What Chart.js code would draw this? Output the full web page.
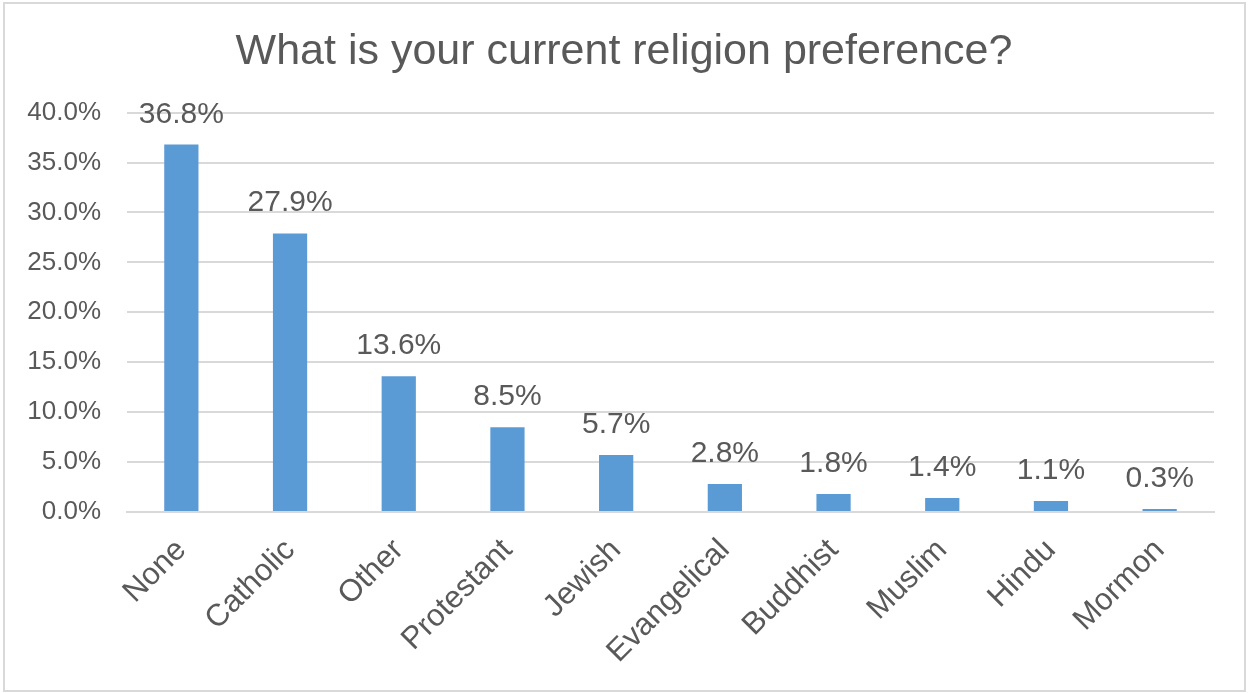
<!DOCTYPE html>
<html lang="en">
<head>
  <meta charset="UTF-8">
  <title>What is your current religion preference?</title>
  <script src="https://cdn.jsdelivr.net/npm/chart.js"></script>
  <style>
    html, body { margin: 0; padding: 0; background: #fff; }
    #wrap { position: relative; width: 1248px; height: 693px; }
    /* marco gris exterior */
    #frame {
      position: absolute; left: 3px; top: 2px; width: 1239px; height: 686px;
      border: 2px solid #d9d9d9; pointer-events: none;
    }
  </style>
</head>
<body>
  <div id="wrap">
    <canvas id="religionChart" width="1248" height="693"></canvas>
    <div id="frame"></div>
  </div>

  <script>
    const categories = ['None', 'Catholic', 'Other', 'Protestant', 'Jewish', 'Evangelical', 'Buddhist', 'Muslim', 'Hindu', 'Mormon'];
    const shares = [36.8, 27.9, 13.6, 8.5, 5.7, 2.8, 1.8, 1.4, 1.1, 0.3];
    const yMax = 40;
    const yStep = 5;

    const textColor = '#595959';
    const fontFamily = '"Liberation Sans", Arial, sans-serif';

    // etiquetas encima de cada barra
    const barLabels = {
      id: 'barLabels',
      afterDatasetsDraw(chart) {
        const ctx = chart.ctx;
        const meta = chart.getDatasetMeta(0);
        ctx.save();
        ctx.font = '30px ' + fontFamily;
        ctx.fillStyle = textColor;
        ctx.textAlign = 'center';
        ctx.textBaseline = 'alphabetic';
        meta.data.forEach((bar, i) => {
          ctx.fillText(shares[i].toFixed(1) + '%', bar.x, bar.y - 22);
        });
        ctx.restore();
      }
    };

    new Chart(document.getElementById('religionChart'), {
      type: 'bar',
      data: {
        labels: categories,
        datasets: [{
          data: shares,
          backgroundColor: '#5b9bd5',
          borderWidth: 0,
          categoryPercentage: 1,
          barPercentage: 0.315
        }]
      },
      options: {
        responsive: false,
        animation: false,
        layout: { padding: 0 },
        scales: {
          x: {
            grid: { display: false },
            border: { color: '#d9d9d9', width: 2 },
            ticks: {
              color: textColor,
              font: { size: 31, family: fontFamily },
              minRotation: 45,
              maxRotation: 45,
              padding: 12
            },
            afterFit(scale) { scale.height = 181; }
          },
          y: {
            min: 0,
            max: yMax,
            grid: { color: '#d9d9d9', lineWidth: 2, drawTicks: false },
            border: { display: false },
            ticks: {
              stepSize: yStep,
              color: textColor,
              font: { size: 26, family: fontFamily },
              padding: 26,
              callback: v => v.toFixed(1) + '%'
            },
            afterFit(scale) { scale.width = 127; }
          },
          // eje vacio para dejar margen derecho
          yRight: {
            position: 'right',
            grid: { display: false },
            border: { display: false },
            ticks: { display: false },
            afterFit(scale) { scale.width = 34; }
          }
        },
        plugins: {
          legend: { display: false },
          tooltip: { enabled: false },
          title: {
            display: true,
            text: 'What is your current religion preference?',
            color: textColor,
            font: { size: 43, family: fontFamily, weight: 'normal' },
            padding: { top: 26, bottom: 35 }
          }
        }
      },
      plugins: [barLabels]
    });
  </script>
</body>
</html>
